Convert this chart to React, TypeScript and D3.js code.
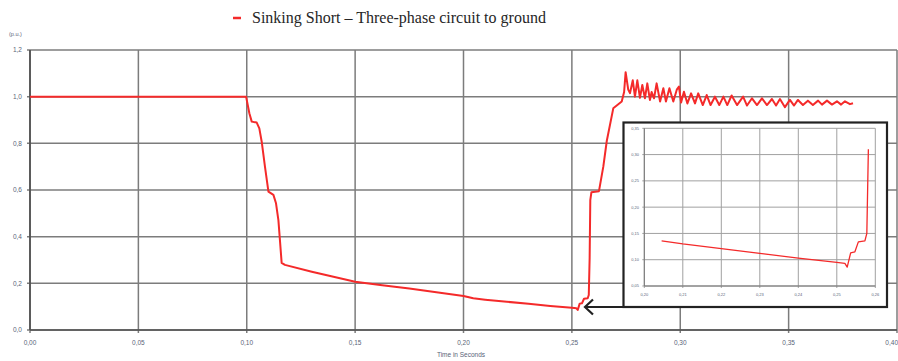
import * as d3 from "d3";
import { useEffect, useRef } from "react";

// time in seconds / voltage in p.u.
const timeS = [
  0, 0.0997, 0.1012, 0.1023, 0.1046, 0.1058, 0.1069, 0.1084, 0.11, 0.1123, 0.1135, 0.1146, 0.1153, 0.1161,
  0.1176, 0.13, 0.14, 0.15, 0.1625, 0.175, 0.1875, 0.2, 0.2045, 0.21, 0.22, 0.23, 0.24, 0.25, 0.2521, 0.2527,
  0.2536, 0.2547, 0.2556, 0.2573, 0.2578, 0.2582, 0.2585, 0.259, 0.2625, 0.2645, 0.2661, 0.2691, 0.273, 0.2741,
  0.2748, 0.276, 0.2768, 0.2781, 0.2791, 0.2802, 0.2814, 0.2825, 0.2837, 0.2848, 0.286, 0.2868, 0.2879, 0.2891,
  0.2907, 0.2922, 0.2934, 0.295, 0.2968, 0.2984, 0.2994, 0.3004, 0.3017, 0.3033, 0.305, 0.3068, 0.3083, 0.3104,
  0.3122, 0.314, 0.316, 0.318, 0.3199, 0.3217, 0.3237, 0.3262, 0.329, 0.3308, 0.3331, 0.3354, 0.3377, 0.34,
  0.3423, 0.3442, 0.346, 0.3483, 0.3506, 0.3525, 0.3543, 0.3566, 0.3589, 0.3612, 0.3636, 0.3654, 0.3677, 0.37,
  0.3723, 0.3742, 0.376, 0.3783, 0.3797,
];
const voltagePU = [
  1.0, 1.0, 0.929, 0.893, 0.889, 0.864, 0.807, 0.7, 0.593, 0.579, 0.543, 0.471, 0.386, 0.288, 0.279, 0.25, 0.228,
  0.207, 0.192, 0.178, 0.162, 0.146, 0.136, 0.13, 0.121, 0.112, 0.103, 0.095, 0.093, 0.086, 0.113, 0.115, 0.134,
  0.136, 0.15, 0.31, 0.557, 0.59, 0.595, 0.7, 0.81, 0.95, 0.979, 1.02, 1.105, 1.03, 1.015, 1.07, 1.0, 1.07, 0.995,
  1.05, 0.993, 1.057, 0.986, 1.02, 0.993, 1.057, 0.979, 1.036, 0.979, 1.036, 0.979, 1.03, 1.043, 0.975, 1.021,
  0.971, 1.014, 0.971, 1.014, 0.964, 1.007, 0.964, 1.0, 0.964, 1.0, 0.964, 1.005, 0.964, 1.0, 0.962, 0.993, 0.964,
  0.993, 0.964, 0.99, 0.962, 0.99, 0.955, 0.986, 0.962, 0.986, 0.964, 0.983, 0.964, 0.983, 0.966, 0.983, 0.966,
  0.98, 0.966, 0.98, 0.968, 0.972,
];

const xTicks = [0, 0.05, 0.1, 0.15, 0.2, 0.25, 0.3, 0.35, 0.4];
const xTickLabels = ["0,00", "0,05", "0,10", "0,15", "0,20", "0,25", "0,30", "0,35", "0,40"];
const yTicks = [0, 0.2, 0.4, 0.6, 0.8, 1.0, 1.2];
const yTickLabels = ["0,0", "0,2", "0,4", "0,6", "0,8", "1,0", "1,2"];

// zoomed inset
const insetXTicks = [0.2, 0.21, 0.22, 0.23, 0.24, 0.25, 0.26];
const insetXTickLabels = ["0,20", "0,21", "0,22", "0,23", "0,24", "0,25", "0,26"];
const insetYTicks = [0.05, 0.1, 0.15, 0.2, 0.25, 0.3, 0.35];
const insetYTickLabels = ["0,05", "0,10", "0,15", "0,20", "0,25", "0,30", "0,35"];
const insetRange = [0.2045, 0.2582];

const title = "Sinking Short – Three-phase circuit to ground";
const xTitle = "Time in Seconds";
const yUnit = "(p.u.)";

export default function App() {
  const ref = useRef<SVGSVGElement>(null);

  useEffect(() => {
    if (!ref.current) return;
    const el = ref.current;
    d3.select(el).selectAll("*").remove();

    const W = 898;
    const H = 361;
    const red = "#f42a2a";
    const grid = "#7c7c7c";
    const labelCol = "#5a6478";
    const sans = "'Liberation Sans', Arial, sans-serif";

    const svg = d3.select(el).attr("width", W).attr("height", H).attr("viewBox", `0 0 ${W} ${H}`);
    svg.append("rect").attr("width", W).attr("height", H).attr("fill", "#fff");

    const data = timeS.map((t, i) => ({ t, v: voltagePU[i] }));

    // main plot
    const x = d3.scaleLinear().domain([0, 0.4]).range([30, 897]);
    const y = d3.scaleLinear().domain([0, 1.2]).range([330, 50]);

    const g = svg.append("g");

    // grid
    g.selectAll(".vgrid")
      .data(xTicks)
      .join("line")
      .attr("x1", d => x(d))
      .attr("x2", d => x(d))
      .attr("y1", y(1.2))
      .attr("y2", y(0) + 3)
      .attr("stroke", grid)
      .attr("stroke-width", 1.5);
    g.selectAll(".hgrid")
      .data(yTicks)
      .join("line")
      .attr("x1", x(0) - 3)
      .attr("x2", x(0.4))
      .attr("y1", d => y(d))
      .attr("y2", d => y(d))
      .attr("stroke", grid)
      .attr("stroke-width", 1.5);

    // axes lines
    g.append("line")
      .attr("x1", x(0))
      .attr("x2", x(0))
      .attr("y1", y(1.2))
      .attr("y2", y(0))
      .attr("stroke", "#505050")
      .attr("stroke-width", 1.7);
    g.append("line")
      .attr("x1", x(0))
      .attr("x2", x(0.4))
      .attr("y1", y(0))
      .attr("y2", y(0))
      .attr("stroke", "#505050")
      .attr("stroke-width", 1.7);

    // tick labels
    g.selectAll(".xlab")
      .data(xTicks)
      .join("text")
      .attr("x", (d, i) => (i === xTicks.length - 1 ? W : x(d)))
      .attr("y", 345)
      .attr("text-anchor", (_, i) => (i === xTicks.length - 1 ? "end" : "middle"))
      .attr("font-family", sans)
      .attr("font-size", 6.5)
      .attr("fill", labelCol)
      .text((_, i) => xTickLabels[i]);
    g.selectAll(".ylab")
      .data(yTicks)
      .join("text")
      .attr("x", 22)
      .attr("y", d => y(d) + 2.3)
      .attr("text-anchor", "end")
      .attr("font-family", sans)
      .attr("font-size", 6.5)
      .attr("fill", labelCol)
      .text((_, i) => yTickLabels[i]);

    svg
      .append("text")
      .attr("x", 461)
      .attr("y", 357)
      .attr("text-anchor", "middle")
      .attr("font-family", sans)
      .attr("font-size", 6.5)
      .attr("fill", labelCol)
      .text(xTitle);
    svg
      .append("text")
      .attr("x", 9)
      .attr("y", 36)
      .attr("font-family", sans)
      .attr("font-size", 5.5)
      .attr("fill", labelCol)
      .text(yUnit);

    // series
    const line = d3
      .line<{ t: number; v: number }>()
      .x(d => x(d.t))
      .y(d => y(d.v));
    g.append("path")
      .datum(data)
      .attr("d", line)
      .attr("fill", "none")
      .attr("stroke", red)
      .attr("stroke-width", 2)
      .attr("stroke-linejoin", "round");

    // legend / title
    svg
      .append("line")
      .attr("x1", 233)
      .attr("x2", 241)
      .attr("y1", 18)
      .attr("y2", 18)
      .attr("stroke", red)
      .attr("stroke-width", 2.5);
    svg
      .append("text")
      .attr("x", 252)
      .attr("y", 23)
      .attr("font-family", "'Liberation Serif', 'Times New Roman', serif")
      .attr("font-size", 16)
      .attr("fill", "#262626")
      .text(title);

    // inset
    const ix = d3.scaleLinear().domain([0.2, 0.26]).range([644.3, 875.3]);
    const iy = d3.scaleLinear().domain([0.05, 0.35]).range([286, 128.3]);
    const ig = svg.append("g");
    ig.append("rect")
      .attr("x", 623.5)
      .attr("y", 122.5)
      .attr("width", 263.5)
      .attr("height", 184.5)
      .attr("fill", "#fff")
      .attr("stroke", "#222")
      .attr("stroke-width", 2.2);

    ig.selectAll(".ivgrid")
      .data(insetXTicks)
      .join("line")
      .attr("x1", d => ix(d))
      .attr("x2", d => ix(d))
      .attr("y1", iy(0.35))
      .attr("y2", iy(0.05) + 2)
      .attr("stroke", "#a0a0a0")
      .attr("stroke-width", 1);
    ig.selectAll(".ihgrid")
      .data(insetYTicks)
      .join("line")
      .attr("x1", ix(0.2) - 2)
      .attr("x2", ix(0.26))
      .attr("y1", d => iy(d))
      .attr("y2", d => iy(d))
      .attr("stroke", "#a0a0a0")
      .attr("stroke-width", 1);
    ig.append("line")
      .attr("x1", ix(0.2))
      .attr("x2", ix(0.2))
      .attr("y1", iy(0.35))
      .attr("y2", iy(0.05))
      .attr("stroke", "#777")
      .attr("stroke-width", 1);
    ig.append("line")
      .attr("x1", ix(0.2))
      .attr("x2", ix(0.26))
      .attr("y1", iy(0.05))
      .attr("y2", iy(0.05))
      .attr("stroke", "#777")
      .attr("stroke-width", 1);

    ig.selectAll(".ixlab")
      .data(insetXTicks)
      .join("text")
      .attr("x", d => ix(d))
      .attr("y", 296)
      .attr("text-anchor", "middle")
      .attr("font-family", sans)
      .attr("font-size", 4)
      .attr("fill", labelCol)
      .text((_, i) => insetXTickLabels[i]);
    ig.selectAll(".iylab")
      .data(insetYTicks)
      .join("text")
      .attr("x", 639)
      .attr("y", d => iy(d) + 1.4)
      .attr("text-anchor", "end")
      .attr("font-family", sans)
      .attr("font-size", 4)
      .attr("fill", labelCol)
      .text((_, i) => insetYTickLabels[i]);

    ig.append("path")
      .datum(data.filter(d => d.t >= insetRange[0] && d.t <= insetRange[1]))
      .attr("d", line.x(d => ix(d.t)).y(d => iy(d.v)))
      .attr("fill", "none")
      .attr("stroke", red)
      .attr("stroke-width", 1.3)
      .attr("stroke-linejoin", "round");

    // arrow pointing at the dip
    svg
      .append("line")
      .attr("x1", 623.5)
      .attr("x2", 585)
      .attr("y1", 307)
      .attr("y2", 307)
      .attr("stroke", "#222")
      .attr("stroke-width", 2.2);
    svg
      .append("path")
      .attr("d", "M593,299.5 L585,307 L593,314.5")
      .attr("fill", "none")
      .attr("stroke", "#222")
      .attr("stroke-width", 2.2);
  }, []);

  return <svg ref={ref} style={{ position: "absolute", left: 0, top: 0, display: "block" }} />;
}
